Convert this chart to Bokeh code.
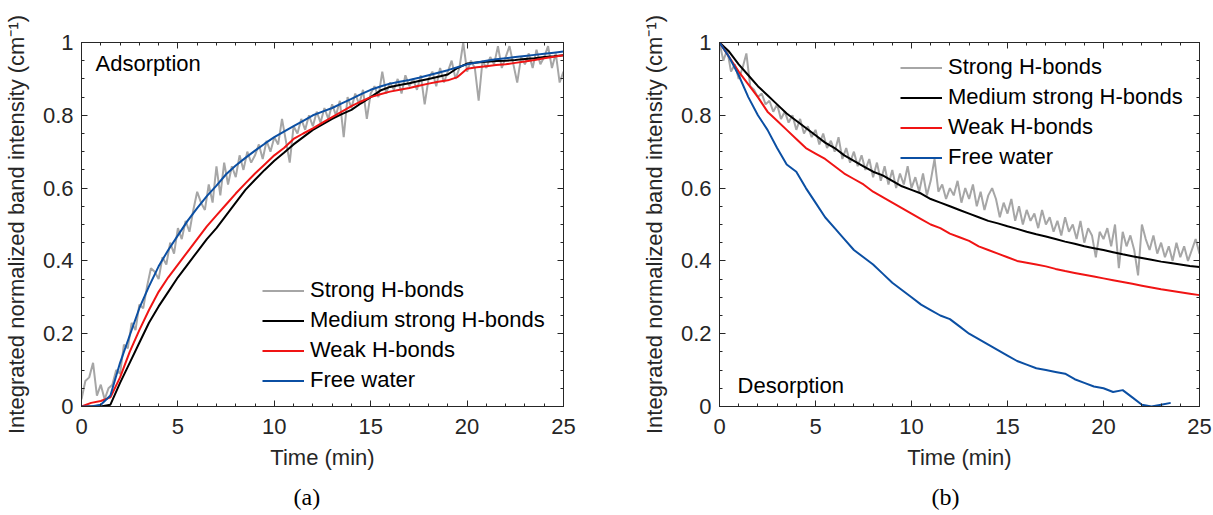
from bokeh.plotting import figure
from bokeh.models import (FixedTicker, LinearAxis, Legend, LegendItem, Label, Title,
                          CustomJSTickFormatter, Range1d)
from bokeh.layouts import row
from bokeh.embed import file_html
from bokeh.resources import INLINE

# ---------------- data ----------------
series_names = ["Strong H-bonds", "Medium strong H-bonds", "Weak H-bonds", "Free water"]
x_ticks = [0, 5, 10, 15, 20, 25]
y_ticks = [0, 0.2, 0.4, 0.6, 0.8, 1.0]

# Adsorption, smooth curves sampled every 0.5 min
ads_blue = [0.0, 0.0, 0.005, 0.03, 0.12, 0.195, 0.27, 0.33, 0.385, 0.43, 0.47, 0.51, 0.545, 0.578, 0.607,
            0.638, 0.662, 0.683, 0.703, 0.722, 0.74, 0.755, 0.77, 0.785, 0.80, 0.81, 0.82, 0.833, 0.845,
            0.858, 0.87, 0.879, 0.887, 0.892, 0.897, 0.903, 0.91, 0.917, 0.924, 0.932, 0.94, 0.945, 0.95,
            0.954, 0.957, 0.96, 0.963, 0.966, 0.969, 0.972, 0.975]
ads_red = [0.0, 0.01, 0.015, 0.025, 0.08, 0.15, 0.21, 0.265, 0.315, 0.355, 0.39, 0.425, 0.46, 0.495, 0.525,
           0.555, 0.585, 0.613, 0.64, 0.665, 0.69, 0.71, 0.735, 0.75, 0.764, 0.78, 0.795, 0.81, 0.825,
           0.838, 0.85, 0.858, 0.865, 0.87, 0.875, 0.881, 0.887, 0.892, 0.896, 0.905, 0.928, 0.932, 0.935,
           0.938, 0.94, 0.944, 0.948, 0.952, 0.957, 0.961, 0.965]
ads_black = [0.0, 0.0, 0.0, 0.005, 0.065, 0.12, 0.175, 0.23, 0.275, 0.315, 0.355, 0.39, 0.425, 0.46, 0.49,
             0.525, 0.56, 0.595, 0.623, 0.65, 0.675, 0.697, 0.72, 0.74, 0.76, 0.775, 0.79, 0.803, 0.815,
             0.833, 0.85, 0.868, 0.878, 0.883, 0.888, 0.894, 0.90, 0.906, 0.912, 0.93, 0.942, 0.945, 0.947,
             0.949, 0.95, 0.952, 0.955, 0.957, 0.96, 0.962, 0.965]
# Adsorption, noisy strong H-bond curve sampled every 0.2 min
ads_gray = [0.02, 0.07, 0.08, 0.12, 0.03, 0.06, 0.02, 0.05, 0.06, 0.10, 0.09, 0.17, 0.16, 0.23, 0.21,
            0.28, 0.27, 0.33, 0.38, 0.37, 0.35, 0.41, 0.39, 0.45, 0.42, 0.49, 0.46, 0.51, 0.48, 0.54,
            0.59, 0.56, 0.54, 0.61, 0.56, 0.66, 0.58, 0.67, 0.61, 0.66, 0.63, 0.69, 0.65, 0.70, 0.67,
            0.69, 0.72, 0.68, 0.73, 0.70,
            0.74, 0.72, 0.79, 0.73, 0.67, 0.77, 0.75, 0.79, 0.76, 0.80, 0.77, 0.81, 0.78, 0.82, 0.79,
            0.83, 0.80, 0.84, 0.74, 0.85, 0.82, 0.86, 0.83, 0.87, 0.79, 0.86, 0.88, 0.85, 0.92, 0.86,
            0.89, 0.87, 0.90, 0.86, 0.91, 0.88, 0.90, 0.87, 0.91, 0.83, 0.90, 0.92, 0.88, 0.93, 0.89,
            0.92, 0.95, 0.90, 0.93, 1.00, 0.92, 0.95, 0.93, 0.84, 0.95, 0.93, 0.96, 0.94, 0.99, 0.93,
            0.96, 0.99, 0.94, 0.89, 0.96, 0.94, 0.97, 0.93, 0.98, 0.94, 0.96, 0.99, 0.93, 0.97, 0.89,
            0.92]

# Desorption, smooth curves sampled every 0.5 min
des_blue = [1.0, 0.96, 0.91, 0.85, 0.80, 0.76, 0.71, 0.665, 0.645, 0.60, 0.56, 0.52, 0.49, 0.46, 0.43,
            0.41, 0.39, 0.365, 0.34, 0.32, 0.30, 0.28, 0.265, 0.25, 0.24, 0.22, 0.20, 0.185, 0.17, 0.155,
            0.14, 0.125, 0.115, 0.105, 0.10, 0.095, 0.09, 0.075, 0.065, 0.055, 0.05, 0.04, 0.045, 0.025,
            0.005, 0.0, 0.005, 0.01]
des_red = [1.0, 0.96, 0.92, 0.885, 0.85, 0.81, 0.785, 0.76, 0.735, 0.71, 0.695, 0.68, 0.66, 0.64, 0.625,
           0.61, 0.59, 0.575, 0.56, 0.545, 0.53, 0.515, 0.50, 0.49, 0.475, 0.465, 0.455, 0.44, 0.43, 0.42,
           0.41, 0.40, 0.395, 0.39, 0.385, 0.378, 0.372, 0.367, 0.362, 0.357, 0.352, 0.347, 0.342, 0.337,
           0.332, 0.327, 0.322, 0.318, 0.314, 0.31, 0.306]
des_black = [1.0, 0.975, 0.94, 0.91, 0.88, 0.855, 0.83, 0.805, 0.785, 0.765, 0.745, 0.725, 0.71, 0.69,
             0.675, 0.66, 0.645, 0.635, 0.62, 0.605, 0.595, 0.585, 0.57, 0.56, 0.55, 0.54, 0.53, 0.52,
             0.51, 0.503, 0.495, 0.488, 0.48, 0.473, 0.467, 0.46, 0.453, 0.447, 0.44, 0.435, 0.43, 0.424,
             0.418, 0.413, 0.408, 0.403, 0.398, 0.394, 0.39, 0.386, 0.383]
# Desorption, noisy strong H-bond curve sampled every 0.2 min
des_gray = [1.00, 0.95, 0.98, 0.92, 0.94, 0.90, 0.93, 0.97, 0.88, 0.87, 0.85, 0.86, 0.83, 0.84, 0.81,
            0.83, 0.79, 0.81, 0.78, 0.80, 0.76, 0.79, 0.75, 0.77, 0.74, 0.76, 0.72, 0.75, 0.71, 0.73,
            0.70, 0.74, 0.68, 0.71, 0.67, 0.70, 0.66, 0.69, 0.65, 0.68, 0.63, 0.67, 0.62, 0.66, 0.61,
            0.65, 0.60, 0.64, 0.61, 0.66,
            0.60, 0.63, 0.59, 0.64, 0.58, 0.62, 0.68, 0.59, 0.61, 0.57, 0.60, 0.58, 0.62, 0.56, 0.60,
            0.57, 0.61, 0.55, 0.59, 0.54, 0.58, 0.60, 0.57, 0.52, 0.56, 0.53, 0.57, 0.51, 0.55, 0.50,
            0.54, 0.51, 0.53, 0.49, 0.54, 0.50, 0.52, 0.48, 0.51, 0.47, 0.52, 0.48, 0.50, 0.46, 0.51,
            0.45, 0.49, 0.47, 0.41, 0.48, 0.46, 0.49, 0.44, 0.50, 0.38, 0.48, 0.44, 0.47, 0.43, 0.36,
            0.50, 0.46, 0.43, 0.47, 0.42, 0.45, 0.41, 0.44, 0.40, 0.45, 0.41, 0.44, 0.40, 0.43, 0.46,
            0.42]

t_ads_half = [i * 0.5 for i in range(len(ads_blue))]
t_ads_fine = [round(i * 0.2, 1) for i in range(len(ads_gray))]
t_des_blue = [i * 0.5 for i in range(len(des_blue))]
t_des_half = [i * 0.5 for i in range(len(des_red))]
t_des_fine = [round(i * 0.2, 1) for i in range(len(des_gray))]

# ---------------- styling ----------------
FONT = "Liberation Sans"
AXC = "#262626"
C_GRAY, C_BLACK, C_RED, C_BLUE = "#a6a6a6", "#000000", "#f01414", "#0b4fa3"
LW = 2
FS = "22px"


def make_panel(frame_w, left, right, caption, tag, tag_xy, data, legend_loc):
    p = figure(frame_width=frame_w, frame_height=364, x_range=Range1d(0, 25), y_range=Range1d(0, 1),
               output_backend="svg", toolbar_location=None, min_border_left=left,
               min_border_right=right, min_border_top=42, min_border_bottom=109)
    p.grid.visible = False
    p.outline_line_color = AXC
    p.background_fill_color = "white"
    p.border_fill_color = "white"

    xt = FixedTicker(ticks=x_ticks, minor_ticks=list(range(0, 26)))
    yt = FixedTicker(ticks=y_ticks, minor_ticks=[i * 0.05 for i in range(21)])
    yfmt = CustomJSTickFormatter(code="return String(Math.round(tick*10)/10);")

    for ax, tk in ((p.xaxis[0], xt), (p.yaxis[0], yt)):
        ax.ticker = tk
        ax.major_tick_in = 6
        ax.major_tick_out = 0
        ax.minor_tick_in = 3
        ax.minor_tick_out = 0
        ax.axis_line_color = AXC
        ax.major_tick_line_color = AXC
        ax.minor_tick_line_color = AXC
        ax.major_label_text_font = FONT
        ax.major_label_text_font_size = FS
        ax.major_label_text_color = AXC
        ax.axis_label_text_font = FONT
        ax.axis_label_text_font_size = FS
        ax.axis_label_text_font_style = "normal"
        ax.axis_label_text_color = AXC
    p.yaxis[0].formatter = yfmt
    p.xaxis[0].major_label_standoff = 12
    p.xaxis[0].axis_label_standoff = 8
    p.yaxis[0].major_label_standoff = 8
    p.yaxis[0].axis_label_standoff = 11
    p.xaxis[0].axis_label = "Time (min)"
    p.yaxis[0].axis_label = "Integrated normalized band intensity (cm\u207b\u00b9)"

    # box axes (top & right), ticks only
    blank = CustomJSTickFormatter(code="return '';")
    for loc, tk in (("above", xt), ("right", yt)):
        ax = LinearAxis(ticker=tk, formatter=blank, major_tick_in=6, major_tick_out=0,
                        minor_tick_in=3, minor_tick_out=0, axis_line_color=AXC,
                        major_tick_line_color=AXC, minor_tick_line_color=AXC,
                        major_label_standoff=0)
        p.add_layout(ax, loc)

    tg, tb, tr, tbl = data
    r_gray = p.line(tg[0], tg[1], line_color=C_GRAY, line_width=LW)
    r_black = p.line(tb[0], tb[1], line_color=C_BLACK, line_width=LW)
    r_red = p.line(tr[0], tr[1], line_color=C_RED, line_width=LW)
    r_blue = p.line(tbl[0], tbl[1], line_color=C_BLUE, line_width=LW)

    items = [LegendItem(label=n, renderers=[r]) for n, r in
             zip(series_names, [r_gray, r_black, r_red, r_blue])]
    leg = Legend(items=items, location=legend_loc, label_text_font=FONT, label_text_font_size=FS,
                 label_text_color="black", glyph_width=42, glyph_height=25, label_height=25,
                 spacing=4, padding=0, margin=0, label_standoff=6, border_line_color=None,
                 background_fill_alpha=0)
    p.add_layout(leg)

    p.add_layout(Label(x=tag_xy[0], y=tag_xy[1], text=tag, text_baseline="middle",
                       text_font=FONT, text_font_size=FS, text_color="black"))

    p.add_layout(Title(text=caption, align="left", offset=212, standoff=18,
                       text_font="Liberation Serif", text_font_size="24px",
                       text_font_style="normal", text_color="black"), "below")
    return p


pa = make_panel(482, 81, 75, "(a)", "Adsorption", (0.73, 0.942),
                ((t_ads_fine, ads_gray), (t_ads_half, ads_black), (t_ads_half, ads_red),
                 (t_ads_half, ads_blue)), (181, 13))
pb = make_panel(480, 81, 14, "(b)", "Desorption", (0.94, 0.058),
                ((t_des_fine, des_gray), (t_des_half, des_black), (t_des_half, des_red),
                 (t_des_blue, des_blue)), (181, 236))

layout = row(pa, pb)
open("out.html", "w").write(file_html(layout, INLINE))
